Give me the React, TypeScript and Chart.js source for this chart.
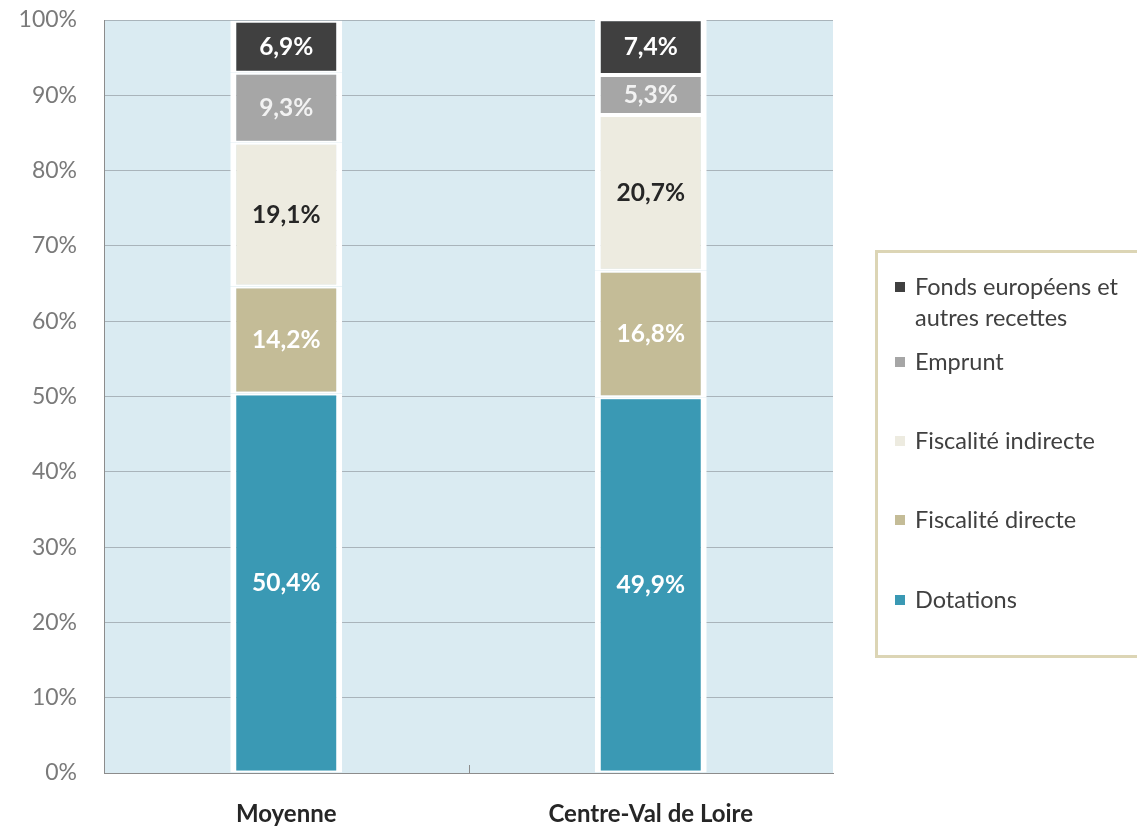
import React, { useEffect, useRef } from "react";
import { Chart, registerables } from "chart.js";

Chart.register(...registerables);

const categories = ["Moyenne", "Centre-Val de Loire"];
const seriesNames = [
  "Dotations",
  "Fiscalité directe",
  "Fiscalité indirecte",
  "Emprunt",
  "Fonds européens et autres recettes",
];
const dotations = [50.4, 49.9];
const fiscaliteDirecte = [14.2, 16.8];
const fiscaliteIndirecte = [19.1, 20.7];
const emprunt = [9.3, 5.3];
const fondsEuropeens = [6.9, 7.4];
const yTicks = [0, 10, 20, 30, 40, 50, 60, 70, 80, 90, 100];

const seriesValues = [dotations, fiscaliteDirecte, fiscaliteIndirecte, emprunt, fondsEuropeens];
const colors = ["#3A99B4", "#C4BC97", "#EDEBE0", "#A6A6A6", "#404040"];
const labelColors = ["#FFFFFF", "#FFFFFF", "#262626", "#F2F2F2", "#FFFFFF"];
const legendLines = [
  ["Fonds européens et", "autres recettes"],
  ["Emprunt"],
  ["Fiscalité indirecte"],
  ["Fiscalité directe"],
  ["Dotations"],
];
const legendY = [287, 362, 441, 520, 600];

const FONT = "Lato, 'Open Sans', sans-serif";

const bgPlugin = {
  id: "bgPlugin",
  beforeDraw(chart: any) {
    const { ctx, chartArea } = chart;
    ctx.save();
    ctx.fillStyle = "#DAEBF2";
    ctx.fillRect(chartArea.left, chartArea.top, chartArea.right - chartArea.left, chartArea.bottom - chartArea.top);
    ctx.restore();
  },
  afterDraw(chart: any) {
    const { ctx, chartArea } = chart;
    const xs = chart.scales.x;
    ctx.save();
    const bx = (xs.getPixelForValue(0) + xs.getPixelForValue(1)) / 2;
    ctx.strokeStyle = "#8C8C8C";
    ctx.lineWidth = 1;
    ctx.beginPath();
    ctx.moveTo(Math.round(bx) + 0.5, chartArea.bottom);
    ctx.lineTo(Math.round(bx) + 0.5, chartArea.bottom - 8);
    ctx.stroke();

    ctx.strokeStyle = "#DCD5B5";
    ctx.lineWidth = 3;
    ctx.strokeRect(876.5, 251.5, 320, 405);
    const ds = chart.data.datasets;
    ctx.font = `23.5px ${FONT}`;
    ctx.textBaseline = "middle";
    ctx.textAlign = "left";
    for (let i = 0; i < legendLines.length; i++) {
      const dsIndex = ds.length - 1 - i;
      const y = legendY[i];
      ctx.fillStyle = ds[dsIndex].backgroundColor;
      ctx.fillRect(895, y - 5, 10, 10);
      ctx.fillStyle = "#404040";
      legendLines[i].forEach((line, j) => {
        ctx.fillText(line, 915, y + j * 31);
      });
    }
    ctx.restore();
  },
};

const labelPlugin = {
  id: "labelPlugin",
  afterDatasetsDraw(chart: any) {
    const { ctx } = chart;
    ctx.save();
    ctx.font = `bold 24.5px ${FONT}`;
    ctx.textAlign = "center";
    ctx.textBaseline = "middle";
    chart.data.datasets.forEach((d: any, di: number) => {
      const meta = chart.getDatasetMeta(di);
      meta.data.forEach((bar: any, i: number) => {
        const v = d.data[i];
        const cy = (bar.y + bar.base) / 2;
        ctx.fillStyle = labelColors[di];
        ctx.fillText(v.toFixed(1).replace(".", ",") + "%", bar.x, cy);
      });
    });
    ctx.restore();
  },
};

export default function App() {
  const ref = useRef<HTMLCanvasElement | null>(null);
  useEffect(() => {
    document.body.style.margin = "0";
    if (!ref.current) return;
    const chart = new Chart(ref.current, {
      type: "bar",
      data: {
        labels: categories,
        datasets: seriesValues.map((vals, i) => ({
          label: seriesNames[i],
          data: vals,
          backgroundColor: colors[i],
          borderColor: "#FFFFFF",
          borderWidth: { left: 6, right: 6, top: 2, bottom: 2 },
          borderSkipped: false,
          barPercentage: 1,
          categoryPercentage: 0.307,
        })),
      },
      options: {
        animation: false,
        responsive: true,
        maintainAspectRatio: false,
        layout: { padding: { top: 20, right: 304, left: 0, bottom: 0 } },
        plugins: {
          legend: { display: false },
          tooltip: { enabled: false },
        },
        scales: {
          x: {
            stacked: true,
            grid: { display: false },
            border: { display: true, color: "#8C8C8C", width: 1 },
            ticks: {
              color: "#262626",
              font: { family: FONT, size: 24, weight: "bold" },
              padding: 19,
            },
            afterFit(scale: any) {
              scale.height = 53;
            },
          },
          y: {
            stacked: true,
            min: 0,
            max: 100,
            afterBuildTicks(scale: any) {
              scale.ticks = yTicks.map((v) => ({ value: v }));
            },
            grid: {
              color: "#A9B4BB",
              drawTicks: true,
              tickLength: 27,
              tickColor: "rgba(0,0,0,0)",
              lineWidth: 1,
            },
            border: { display: true, color: "#8C8C8C", width: 1 },
            ticks: {
              color: "#7A7A7A",
              font: { family: FONT, size: 23 },
              padding: 0,
              callback: (v: any) => v + "%",
            },
            afterFit(scale: any) {
              scale.width = 104;
            },
          },
        },
      },
      plugins: [bgPlugin, labelPlugin],
    });
    return () => chart.destroy();
  }, []);
  return (
    <div style={{ width: 1137, height: 826, position: "relative", background: "#FFFFFF" }}>
      <canvas ref={ref} />
    </div>
  );
}
